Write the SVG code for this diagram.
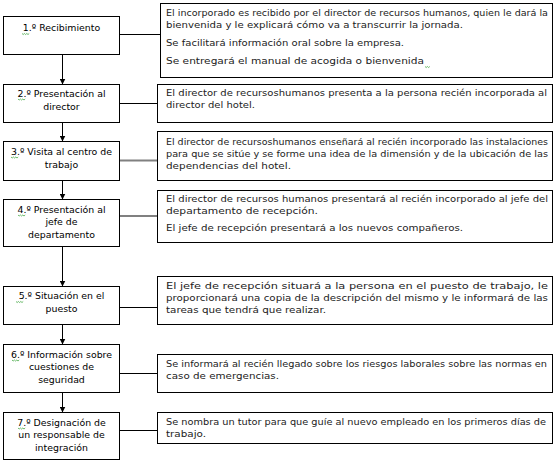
<svg xmlns="http://www.w3.org/2000/svg" width="555" height="461" viewBox="0 0 555 461">
<defs>
<style>
.box{fill:#fff;stroke:#000;stroke-width:1}
.lt{font-family:"DejaVu Sans",sans-serif;font-size:9.4px;fill:#000;text-anchor:middle}
.rt{font-family:"DejaVu Sans",sans-serif;font-size:8.4px;fill:#222}
.c{stroke:#000;stroke-width:1;fill:none}
.cg{stroke:#808080;stroke-width:2;fill:none}
.sq{stroke:#2e9e2e;stroke-width:0.7;fill:none}
</style>
<marker id="ah" markerWidth="6" markerHeight="6" refX="5.5" refY="3" orient="auto" markerUnits="userSpaceOnUse">
<path d="M0,0 L6,3 L0,6 Z" fill="#000"/>
</marker>
</defs>
<rect width="555" height="461" fill="#fff"/>
<g id="connectors">
<line class="c" x1="62.5" y1="54.5" x2="62.5" y2="84" marker-end="url(#ah)"/>
<line class="c" x1="62.5" y1="122.5" x2="62.5" y2="141" marker-end="url(#ah)"/>
<line class="c" x1="62.5" y1="180.5" x2="62.5" y2="199" marker-end="url(#ah)"/>
<line class="c" x1="62.5" y1="246.5" x2="62.5" y2="286" marker-end="url(#ah)"/>
<line class="c" x1="62.5" y1="324.5" x2="62.5" y2="344" marker-end="url(#ah)"/>
<line class="c" x1="62.5" y1="392.5" x2="62.5" y2="412" marker-end="url(#ah)"/>
<line class="c" x1="119.5" y1="34.5" x2="160.5" y2="34.5"/>
<line class="c" x1="119.5" y1="103.5" x2="157.5" y2="103.5"/>
<line class="cg" x1="119.5" y1="160.5" x2="157.5" y2="160.5"/>
<line class="cg" x1="119.5" y1="216" x2="157.5" y2="216"/>
<line class="c" x1="119.5" y1="307.5" x2="157.5" y2="307.5"/>
<line class="c" x1="119.5" y1="373.5" x2="157.5" y2="373.5"/>
<line class="c" x1="119.5" y1="430.5" x2="157.5" y2="430.5"/>
</g>
<g id="step1">
<rect class="box" x="3.5" y="16.5" width="116" height="38"/>
<text class="lt" x="61.5" y="31">1.º Recibimiento</text>
<path class="sq" d="M22,33.5 l1.2,1 1.2,-1 1.2,1 1.2,-1 1.2,1 1.2,-1"/>
</g>
<g id="step2">
<rect class="box" x="3.5" y="84.5" width="116" height="38"/>
<text class="lt" x="61.5" y="96.5">2.º Presentación al</text>
<text class="lt" x="61.5" y="109.5">director</text>
<path class="sq" d="M18,99 l1.2,1 1.2,-1 1.2,1 1.2,-1 1.2,1 1.2,-1"/>
</g>
<g id="step3">
<rect class="box" x="3.5" y="141.5" width="116" height="39"/>
<text class="lt" x="61.5" y="154.5">3.º Visita al centro de</text>
<text class="lt" x="61.5" y="167.5">trabajo</text>
<path class="sq" d="M11,157 l1.2,1 1.2,-1 1.2,1 1.2,-1 1.2,1 1.2,-1"/>
</g>
<g id="step4">
<rect class="box" x="3.5" y="199.5" width="116" height="47"/>
<text class="lt" x="61.5" y="212.5">4.º Presentación al</text>
<text class="lt" x="61.5" y="225">jefe de</text>
<text class="lt" x="61.5" y="237.5">departamento</text>
<path class="sq" d="M18,215 l1.2,1 1.2,-1 1.2,1 1.2,-1 1.2,1 1.2,-1"/>
</g>
<g id="step5">
<rect class="box" x="3.5" y="286.5" width="116" height="38"/>
<text class="lt" x="61.5" y="299">5.º Situación en el</text>
<text class="lt" x="61.5" y="311.5">puesto</text>
<path class="sq" d="M16,301.5 l1.2,1 1.2,-1 1.2,1 1.2,-1 1.2,1 1.2,-1"/>
</g>
<g id="step6">
<rect class="box" x="3.5" y="344.5" width="116" height="48"/>
<text class="lt" x="61.5" y="357.5">6.º Información sobre</text>
<text class="lt" x="61.5" y="370">cuestiones de</text>
<text class="lt" x="61.5" y="382.5">seguridad</text>
<path class="sq" d="M12,360 l1.2,1 1.2,-1 1.2,1 1.2,-1 1.2,1 1.2,-1"/>
</g>
<g id="step7">
<rect class="box" x="3.5" y="412.5" width="116" height="47"/>
<text class="lt" x="61.5" y="425.5">7.º Designación de</text>
<text class="lt" x="61.5" y="438">un responsable de</text>
<text class="lt" x="61.5" y="450.5">integración</text>
<path class="sq" d="M18,428 l1.2,1 1.2,-1 1.2,1 1.2,-1 1.2,1 1.2,-1"/>
</g>
<g id="desc1">
<rect class="box" x="160.5" y="3.5" width="392" height="74"/>
<text class="rt" x="166" y="16" textLength="382" lengthAdjust="spacingAndGlyphs">El incorporado es recibido por el director de recursos humanos, quien le dará la</text>
<text class="rt" x="166" y="28" textLength="297" lengthAdjust="spacingAndGlyphs">bienvenida y le explicará cómo va a transcurrir la jornada.</text>
<text class="rt" x="166" y="46" textLength="238" lengthAdjust="spacingAndGlyphs">Se facilitará información oral sobre la empresa.</text>
<text class="rt" x="166" y="64" textLength="258" lengthAdjust="spacingAndGlyphs">Se entregará el manual de acogida o bienvenida</text>
<path class="sq" d="M425,66.5 l1.2,1 1.2,-1 1.2,1 1.2,-1"/>
</g>
<g id="desc2">
<rect class="box" x="157.5" y="84.5" width="395" height="38"/>
<text class="rt" x="166" y="96" textLength="381" lengthAdjust="spacingAndGlyphs">El director de recursoshumanos presenta a la persona recién incorporada al</text>
<text class="rt" x="166" y="107.5" textLength="89" lengthAdjust="spacingAndGlyphs">director del hotel.</text>
</g>
<g id="desc3">
<rect class="box" x="157.5" y="131.5" width="395" height="49"/>
<text class="rt" x="166" y="144.5" textLength="382" lengthAdjust="spacingAndGlyphs">El director de recursoshumanos enseñará al recién incorporado las instalaciones</text>
<text class="rt" x="166" y="156.5" textLength="382" lengthAdjust="spacingAndGlyphs">para que se sitúe y se forme una idea de la dimensión y de la ubicación de las</text>
<text class="rt" x="166" y="169" textLength="125" lengthAdjust="spacingAndGlyphs">dependencias del hotel.</text>
</g>
<g id="desc4">
<rect class="box" x="157.5" y="190.5" width="395" height="52"/>
<text class="rt" x="166" y="202" textLength="382" lengthAdjust="spacingAndGlyphs">El director de recursos humanos presentará al recién incorporado al jefe del</text>
<text class="rt" x="166" y="214" textLength="152" lengthAdjust="spacingAndGlyphs">departamento de recepción.</text>
<text class="rt" x="166" y="231" textLength="297" lengthAdjust="spacingAndGlyphs">El jefe de recepción presentará a  los nuevos compañeros.</text>
</g>
<g id="desc5">
<rect class="box" x="157.5" y="276.5" width="395" height="48"/>
<text class="rt" x="166" y="289" textLength="382" lengthAdjust="spacingAndGlyphs">El jefe de recepción situará a la persona en el puesto de trabajo, le</text>
<text class="rt" x="166" y="301" textLength="382" lengthAdjust="spacingAndGlyphs">proporcionará una copia de la descripción del mismo y le informará de las</text>
<text class="rt" x="166" y="313" textLength="160" lengthAdjust="spacingAndGlyphs">tareas que tendrá que realizar.</text>
</g>
<g id="desc6">
<rect class="box" x="157.5" y="354.5" width="395" height="38"/>
<text class="rt" x="166" y="367" textLength="381" lengthAdjust="spacingAndGlyphs">Se informará al recién llegado sobre los riesgos laborales sobre las normas en</text>
<text class="rt" x="166" y="379" textLength="113" lengthAdjust="spacingAndGlyphs">caso de emergencias.</text>
</g>
<g id="desc7">
<rect class="box" x="157.5" y="412.5" width="395" height="31"/>
<text class="rt" x="166" y="425" textLength="380" lengthAdjust="spacingAndGlyphs">Se nombra un tutor para que guíe al nuevo empleado en los primeros días de</text>
<text class="rt" x="166" y="437" textLength="40" lengthAdjust="spacingAndGlyphs">trabajo.</text>
</g>
</svg>
